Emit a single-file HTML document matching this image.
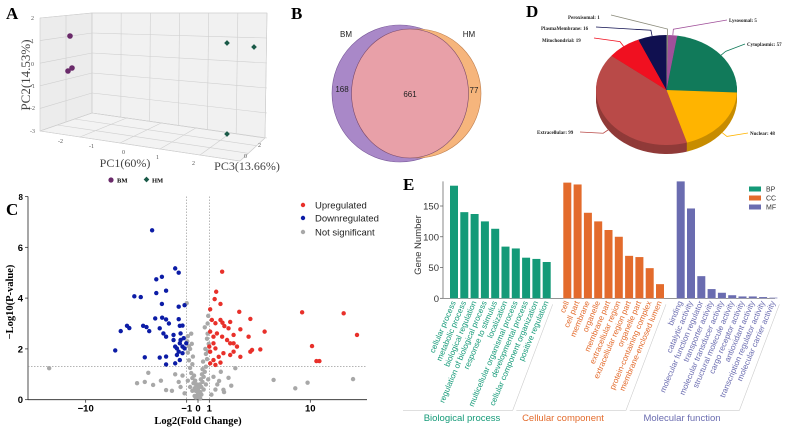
<!DOCTYPE html>
<html><head><meta charset="utf-8"><style>
body{margin:0;background:#fff;width:792px;height:434px;overflow:hidden}
svg{display:block}
.pl{font-family:"Liberation Serif",serif;font-weight:bold;font-size:17px}
.sans{font-family:"Liberation Sans",sans-serif}
.serif{font-family:"Liberation Serif",serif}
</style></head><body>
<svg id="fig" width="792" height="434" viewBox="0 0 792 434">
<g>
<text class="pl" x="6" y="19">A</text>
<polygon points="40,18 92,13 92,113 40,131" fill="#ececec" stroke="#ccc" stroke-width="0.6"/>
<polygon points="92,13 267,13 265,138 92,113" fill="#f1f1f1" stroke="#ccc" stroke-width="0.6"/>
<polygon points="40,131 92,113 265,138 240,161" fill="#f3f3f3" stroke="#ccc" stroke-width="0.6"/>
<g id="pcagrid" stroke="#cfcfcf" stroke-width="0.6" fill="none"></g>
<g class="serif" font-size="6" fill="#555">
<text x="31" y="20">2</text><text x="31" y="43">1</text><text x="31" y="66">0</text><text x="30" y="88">-1</text><text x="30" y="110">-2</text><text x="30" y="133">-3</text>
<text x="58" y="143">-2</text><text x="89" y="148">-1</text><text x="122" y="154">0</text><text x="156" y="159">1</text><text x="192" y="165">2</text>
<text x="258" y="147">2</text><text x="244" y="158">0</text>
</g>
<g id="pcapts"></g>
<text class="serif" font-size="13" fill="#444" transform="translate(30,75) rotate(-90)" text-anchor="middle">PC2(14.53%)</text>
<text class="serif" font-size="12" fill="#444" x="125" y="167" text-anchor="middle">PC1(60%)</text>
<text class="serif" font-size="12" fill="#444" x="247" y="170" text-anchor="middle">PC3(13.66%)</text>
<g>
<circle cx="111" cy="180" r="2.6" fill="#6a2a6a"/><text class="serif" font-weight="bold" font-size="6.5" x="117" y="182.5">BM</text>
<rect x="144.5" y="177.5" width="4" height="4" fill="#1a5a48" transform="rotate(45 146.5 179.5)"/><text class="serif" font-weight="bold" font-size="6.5" x="152" y="182.5">HM</text>
</g>
</g>
<g>
<text class="pl" x="291" y="19">B</text>
<ellipse cx="400" cy="93.5" rx="68" ry="68.5" fill="#a988c8" stroke="#7a5a9a" stroke-width="0.6"/>
<ellipse cx="417" cy="93.5" rx="64" ry="64.5" fill="#f6b57c" stroke="#c08050" stroke-width="0.6"/>
<ellipse cx="410" cy="93.5" rx="58.5" ry="64.5" fill="#e8a0a8" stroke="#7a4a6a" stroke-width="0.6"/>
<g class="sans" font-size="8" fill="#222">
<text x="346" y="37" text-anchor="middle">BM</text>
<text x="469" y="37" text-anchor="middle">HM</text>
<text x="342" y="92" text-anchor="middle">168</text>
<text x="410" y="97" text-anchor="middle">661</text>
<text x="474" y="93" text-anchor="middle">77</text>
</g>
</g>
<g>
<text class="pl" x="526" y="17">D</text>
<g id="pie"></g>
</g>
<g>
<text class="pl" x="6" y="215">C</text>
<g id="volcano"></g>
</g>
<g>
<text class="pl" x="403" y="190">E</text>
<g id="gochart"></g>
</g>
</svg>
<script>
const pcaBM = [[70,36],[72,68],[68,71]];
const pcaHM = [[227,43],[254,47],[227,134]];
const pieNames = ["Peroxisomal","Lysosomal","Cytoplasmic","Nuclear","Extracellular","Mitochondrial","PlasmaMembrane"];
const pieValues = [1,5,57,48,99,19,16];
const pieColors = ["#8a8a7a","#a0509a","#117a5a","#ffb400","#b94a48","#f01020","#101050"];
const upX = [1.34,1.17,1.13,1.29,1.02,1.98,8.3,21.4,29,10.4,2.55,3.53,1.06,1.29,1.35,1.61,1.41,1.15,1.55,1.74,1.19,1.34,1.5,1.61,2.45,2.55,3.2,2.65,2.03,1.74,1.61,1.38,1.1,1.15,1.02,1.24,1.1,1.29,1.02,1.15,11.5,12.3,1.1,1.02,1.0,1.74,1.88,2.03];
const upY = [5.04,4.25,3.96,3.77,3.56,3.46,3.44,3.4,2.55,2.11,3.18,2.68,3.14,3.14,3.03,3.06,2.9,3.01,2.81,2.55,2.61,2.48,2.35,2.22,2.48,1.89,1.98,1.96,1.69,1.89,1.76,1.83,2.22,2.02,1.89,1.69,1.56,1.46,1.43,1.37,1.52,1.52,2.48,2.68,2.09,2.22,2.09,2.77];
const downX = [-2.2,-1.3,-1.2,-2.0,-1.76,-1.6,-2.0,-3.3,-2.85,-1.76,-1.2,-1.05,-2.05,-1.75,-1.6,-1.5,-1.2,-1.17,-1.1,-3.9,-3.7,-4.5,-2.7,-2.5,-2.35,-1.85,-1.7,-1.35,-1.6,-1.15,-1.15,-1.35,-1.17,-1.1,-1.25,-1.05,-1.01,-5.1,-2.6,-1.85,-1.6,-1.25,-1.17,-1.6,-1.3,-1.1,-1.2,-1.3,-1.07];
const downY = [6.67,5.17,5.0,4.74,4.84,4.29,4.2,4.07,4.04,3.77,3.66,3.72,3.2,3.23,3.16,3.0,3.17,2.91,2.92,2.91,2.82,2.7,2.91,2.86,2.7,2.81,2.61,2.55,2.48,2.61,2.35,2.35,2.22,2.09,2.02,2.02,2.22,1.94,1.67,1.66,1.7,1.76,1.56,1.39,1.43,1.83,1.89,2.09,2.42];
const nsX = [-23,-3.1,-2.6,-2.4,-2.15,-1.8,-1.6,4.33,7.1,9.4,26.5,1.81,1.55,1.65,1.25,1.38,0,0.1,-0.1,0.2,-0.2,0.3,-0.3,0.4,-0.4,0.5,-0.5,0.6,-0.6,0.7,-0.7,0.8,-0.8,0.9,-0.9,0.95,-0.95,-0.9,0.85,-1,0.9,0.85,0.6,-0.6,-0.8,0.7,-0.5,0.4,0,0.15,-0.15,0.05,-0.05,0.25,-0.25,0.35,-0.35,0.3,-0.3,0.5,-0.5,0.7,-0.7,0.9,-0.9,1.1,-1.1,1.2,-1.2,1.3,-1.3,1.15,-1.15,1.4,-1.4,0.2,-0.2,0.1,-0.1,0.45,-0.45,0.65,-0.7,0.8,-0.55,1.05,-1.05];
const nsY = [1.24,0.65,0.7,1.06,0.58,0.75,0.38,0.78,0.45,0.67,0.81,1.24,0.86,0.55,0.74,0.39,0.1,0.2,0.15,0.3,0.35,0.5,0.45,0.7,0.65,0.9,0.85,1.1,1.05,1.3,1.25,1.6,1.55,1.9,1.85,2.2,2.3,2.5,2.6,3.8,3.3,3.0,2.85,2.6,2.1,1.8,1.4,1.2,0.4,0.6,0.55,0.25,0.3,0.8,0.75,1.0,0.95,0.2,0.15,0.4,0.35,0.6,0.5,0.8,0.75,0.9,0.95,0.6,0.7,1.1,1.0,0.4,0.5,0.3,0.35,0.05,0.08,0.5,0.6,1.5,1.7,2.0,2.0,2.4,2.2,0.2,0.25];
const volXTicks = [-10,-1,0,1,10];
const volXTickLabels = ["\u221210","\u22121","0","1","10"];
const volYTicks = [0,2,4,6];
const bpLabels = ["cellular process","metabolic process","biological regulation","regulation of biological process","response to stimulus","localization","multicellular organismal process","developmental process","cellular component organization","positive regulation"];
const bpValues = [183,140,137,125,113,84,81,66,64,59];
const ccLabels = ["cell","cell part","membrane","organelle","membrane part","extracellular region","extracellular region part","organelle part","protein-containing complex","membrane-enclosed lumen"];
const ccValues = [188,185,139,125,111,100,69,67,49,23];
const mfLabels = ["binding","catalytic activity","molecular function regulator","transporter activity","molecular transducer activity","structural molecule activity","cargo receptor activity","antioxidant activity","transcription regulator activity","molecular carrier activity"];
const mfValues = [190,146,36,15,9,5,3,3,2,1];
const goYTicks = [0,50,100,150];

const NS="http://www.w3.org/2000/svg";
function mk(tag, attrs, parent){const e=document.createElementNS(NS,tag);for(const k in attrs)e.setAttribute(k,attrs[k]);parent.appendChild(e);return e;}

(function(){
 const g=document.getElementById('pcagrid');
 function gl(a){const l=mk('line',a,g);}
 for(let i=0;i<6;i++){const t=i/5;gl({x1:40,y1:18+113*t,x2:92,y2:13+100*t});}
 for(let i=0;i<6;i++){const t=i/5;gl({x1:92,y1:13+100*t,x2:267,y2:13+125*t});}
 for(let i=0;i<7;i++){const t=i/6;const x=92+175*t;gl({x1:x,y1:13,x2:x-2*t,y2:113+25*t});}
 gl({x1:66,y1:15.5,x2:66,y2:122});
 for(let i=0;i<6;i++){const t=i/5;gl({x1:40+200*t,y1:131+30*t,x2:92+173*t,y2:113+25*t});}
 for(let i=0;i<4;i++){const t=i/3;gl({x1:40+52*t,y1:131-18*t,x2:240+25*t,y2:161-23*t});}
 const p=document.getElementById('pcapts');
 pcaBM.forEach(d=>{const c=mk('circle',{cx:d[0],cy:d[1],r:2.8,fill:'#6a2a6a'},p);});
 pcaHM.forEach(d=>{const c=mk('rect',{x:d[0]-2,y:d[1]-2,width:4,height:4,fill:'#1a5a48',transform:`rotate(45 ${d[0]} ${d[1]})`},p);});
})();

(function(){
 const g=document.getElementById('pie');
 const cx=666.5,cy=90,rx=70.5,ry=55,depth=9;
 const total=pieValues.reduce((a,b)=>a+b,0);
 function pt(a,dy){return [cx+rx*Math.sin(a),cy-ry*Math.cos(a)+dy];}
 function shade(hex,f){const n=parseInt(hex.slice(1),16);let r=(n>>16)&255,gg=(n>>8)&255,b=n&255;return `rgb(${Math.round(r*f)},${Math.round(gg*f)},${Math.round(b*f)})`;}
 function sector(a0,a1,dy){const p0=pt(a0,dy),p1=pt(a1,dy);const large=(a1-a0)>Math.PI?1:0;return `M${cx},${cy+dy} L${p0[0]},${p0[1]} A${rx},${ry} 0 ${large} 1 ${p1[0]},${p1[1]} Z`;}
 const angles=[];let acc=0;pieValues.forEach(v=>{const a0=acc/total*2*Math.PI;acc+=v;angles.push([a0,acc/total*2*Math.PI]);});
 for(let d=depth;d>=1;d--){pieValues.forEach((v,i)=>{const s=mk('path',{d:sector(angles[i][0],angles[i][1],d),fill:shade(pieColors[i],0.78)},g);});}
 pieValues.forEach((v,i)=>{const s=mk('path',{d:sector(angles[i][0],angles[i][1],0),fill:pieColors[i]},g);});
 // order: Peroxisomal, Lysosomal, Cytoplasmic, Nuclear, Extracellular, Mitochondrial, PlasmaMembrane
 const labelPos=[[568,19,'start'],[729,22,'start'],[747,46,'start'],[750,135,'start'],[537,134,'start'],[542,42,'start'],[541,30,'start']];
 const lineEnd=[[611,15],[727,20],[745,44],[748,133],[580,132],[594,38],[596,27]];
 pieValues.forEach((v,i)=>{
  const mid=(angles[i][0]+angles[i][1])/2;
  const e=pt(mid,0);const kx=cx+(rx+6)*Math.sin(mid),ky=cy-(ry+6)*Math.cos(mid)+(Math.cos(mid)<0?depth:0);
  const l=mk('polyline',{points:`${e[0]},${e[1]+(Math.cos(mid)<0?depth:0)} ${kx},${ky} ${lineEnd[i][0]},${lineEnd[i][1]}`,fill:'none',stroke:pieColors[i],'stroke-width':0.8},g);
  
  const t=mk('text',{x:labelPos[i][0],y:labelPos[i][1],'font-size':5,'font-weight':'bold','font-family':'Liberation Serif, serif',fill:'#222'},g);
  t.textContent=pieNames[i]+': '+v;
  
 });
})();

(function(){
 const g=document.getElementById('volcano');
 const x0=198,xL=28,xR=367,y0=399.7,k=25.4;
 function fx(v){const a=Math.abs(v);const d=a<=1?11.3*a:11.3+101*Math.log10(a);return x0+Math.sign(v)*d;}
 function fy(v){return y0-k*v;}
 const ax=mk('line',{x1:xL,y1:y0,x2:xR,y2:y0,stroke:'#222','stroke-width':0.8},g);
 const ay=mk('line',{x1:xL,y1:y0,x2:xL,y2:fy(8),stroke:'#222','stroke-width':0.8},g);
 [-1,1].forEach(v=>{const l=mk('line',{x1:fx(v),y1:fy(8),x2:fx(v),y2:y0,stroke:'#888','stroke-width':0.6,'stroke-dasharray':'1.5,1.5'},g);});
 const h=mk('line',{x1:xL,y1:fy(1.3),x2:xR,y2:fy(1.3),stroke:'#888','stroke-width':0.6,'stroke-dasharray':'1.5,1.5'},g);
 volXTicks.forEach((v,i)=>{const t=mk('line',{x1:fx(v),y1:y0,x2:fx(v),y2:y0+3,stroke:'#222','stroke-width':0.7},g);
  const tx=mk('text',{x:fx(v),y:y0+12,'text-anchor':'middle','font-size':9.5,'font-weight':'bold','font-family':'Liberation Sans, sans-serif'},g);tx.textContent=volXTickLabels[i];});
 volYTicks.concat([8]).forEach(v=>{const t=mk('line',{x1:xL-3,y1:fy(v),x2:xL,y2:fy(v),stroke:'#222','stroke-width':0.7},g);
  const tx=mk('text',{x:xL-5,y:fy(v)+3.5,'text-anchor':'end','font-size':v==8?8:9.5,'font-weight':'bold','font-family':'Liberation Sans, sans-serif'},g);tx.textContent=v;});
 function pts(xs,ys,col,name){xs.forEach((x,i)=>{const c=mk('circle',{cx:fx(x),cy:fy(ys[i]),r:2.2,fill:col},g);});}
 pts(nsX,nsY,'#a8a8a8','point-not-significant');
 pts(downX,downY,'#0c1ca6','point-downregulated');
 pts(upX,upY,'#e8302a','point-upregulated');
 const lab=[['Upregulated','#e8302a',205],['Downregulated','#0c1ca6',218],['Not significant','#a8a8a8',232]];
 lab.forEach(l=>{const c=mk('circle',{cx:303,cy:l[2],r:2.2,fill:l[1]},g);
  const t=mk('text',{x:315,y:l[2]+3.5,'font-size':9.5,'font-family':'Liberation Sans, sans-serif',fill:'#222'},g);t.textContent=l[0];});
 const xt=mk('text',{x:198,y:424,'text-anchor':'middle','font-size':10.5,'font-weight':'bold','font-family':'Liberation Serif, serif'},g);xt.textContent='Log2(Fold Change)';
 const yt=mk('text',{transform:'translate(13,302) rotate(-90)','text-anchor':'middle','font-size':10.5,'font-weight':'bold','font-family':'Liberation Serif, serif'},g);yt.textContent='\u2212Log10(P-value)';
})();

(function(){
 const g=document.getElementById('gochart');
 const y0=298.3,k=0.6153,axX=443,bw=8,step=10.3;
 function fy(v){return y0-k*v;}
 const ay=mk('line',{x1:axX,y1:y0,x2:axX,y2:fy(190),stroke:'#555','stroke-width':0.7},g);
 const axl=mk('line',{x1:axX,y1:y0,x2:775,y2:y0,stroke:'#555','stroke-width':0.7},g);
 goYTicks.forEach(v=>{const t=mk('line',{x1:axX-3,y1:fy(v),x2:axX,y2:fy(v),stroke:'#555','stroke-width':0.7},g);
  const tx=mk('text',{x:axX-4,y:fy(v)+3.5,'text-anchor':'end','font-size':9.5,'font-family':'Liberation Sans, sans-serif',fill:'#333'},g);tx.textContent=v;});
 const yt=mk('text',{transform:'translate(421,245) rotate(-90)','text-anchor':'middle','font-size':9.5,'font-family':'Liberation Sans, sans-serif',fill:'#333'},g);yt.textContent='Gene Number';
 const groups=[[bpLabels,bpValues,450,'#149a78','Biological process',462],[ccLabels,ccValues,563.3,'#e36b2c','Cellular component',563],[mfLabels,mfValues,676.7,'#6a6cb0','Molecular function',682]];
 groups.forEach(gr=>{
  gr[1].forEach((v,i)=>{const x=gr[2]+i*step;
   const r=mk('rect',{x:x,y:fy(v),width:bw,height:y0-fy(v),fill:gr[3]},g);
   const t=mk('text',{transform:`translate(${x+bw/2+2},${y0+4}) rotate(-67)`,'text-anchor':'end','font-size':8,'font-family':'Liberation Sans, sans-serif',fill:gr[3]},g);t.textContent=gr[0][i];});
  const x1=gr[2]-2,x2=gr[2]+9*step+bw+2;
  const br=mk('polyline',{points:`${x2},${y0+6} ${x2-40},${y0+112} ${x1-45},${y0+112}`,fill:'none',stroke:'#ccc','stroke-width':0.6},g);
  const gt=mk('text',{x:gr[5],y:421,'text-anchor':'middle','font-size':9.5,'font-family':'Liberation Sans, sans-serif',fill:gr[3]},g);gt.textContent=gr[4];
 });
 [['BP','#149a78',189],['CC','#e36b2c',198],['MF','#6a6cb0',207]].forEach(l=>{
  const r=mk('rect',{x:749,y:l[2]-2.5,width:12,height:5,fill:l[1]},g);
  const t=mk('text',{x:766,y:l[2]+2.5,'font-size':7,'font-family':'Liberation Sans, sans-serif',fill:'#333'},g);t.textContent=l[0];});
})();
</script>
</body></html>
